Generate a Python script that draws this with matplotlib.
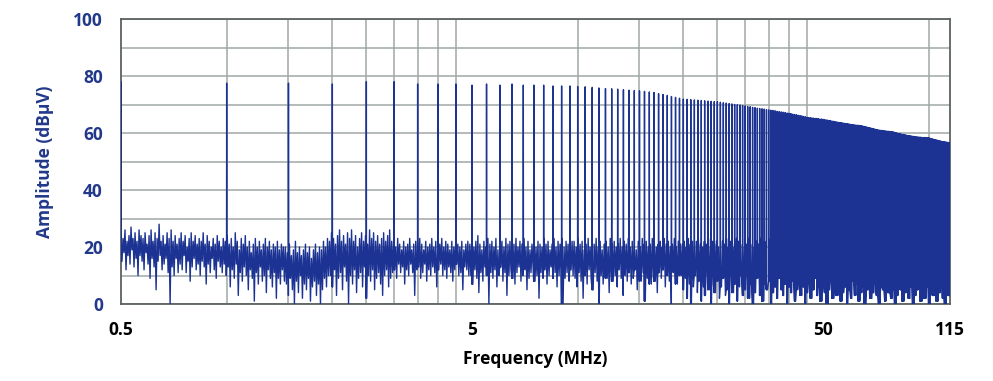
import numpy as np
import matplotlib
matplotlib.use("Agg")
import matplotlib.pyplot as plt
from matplotlib.ticker import FixedLocator, NullFormatter

plt.rcParams['font.family'] = ['Open Sans', 'DejaVu Sans']

#%% data
FUNDAMENTAL_MHZ = 0.5

# peak of each harmonic n*0.5 MHz, n = 1..230 (dBuV)
harmonic_db = [
    78.0, 77.5, 77.5, 77.2, 78.0, 78.0, 77.2, 77.2, 77.2, 76.8,
    77.2, 76.8, 77.2, 76.8, 76.8, 76.8, 76.5, 76.5, 76.5, 76.3,
    76.2, 76.0, 75.8, 75.6, 75.5, 75.4, 75.2, 75.0, 74.9, 74.8,
    74.6, 74.4, 74.2, 73.8, 73.5, 73.2, 72.8, 72.5, 72.2, 71.9,
    71.8, 71.7, 71.6, 71.5, 71.4, 71.3, 71.2, 71.1, 71.0, 71.0,
    70.8, 70.6, 70.5, 70.3, 70.2, 70.0, 69.9, 69.8, 69.6, 69.5,
    69.3, 69.2, 69.0, 68.9, 68.7, 68.6, 68.5, 68.4, 68.2, 68.1,
    68.0, 67.9, 67.8, 67.6, 67.5, 67.4, 67.3, 67.2, 67.0, 66.9,
    66.8, 66.6, 66.5, 66.4, 66.2, 66.1, 66.0, 65.8, 65.7, 65.5,
    65.4, 65.4, 65.3, 65.2, 65.1, 65.1, 65.0, 64.9, 64.9, 64.8,
    64.7, 64.6, 64.5, 64.4, 64.3, 64.2, 64.1, 64.0, 63.9, 63.8,
    63.7, 63.6, 63.6, 63.5, 63.4, 63.3, 63.3, 63.2, 63.1, 63.0,
    62.9, 62.9, 62.8, 62.8, 62.7, 62.7, 62.6, 62.6, 62.5, 62.4,
    62.3, 62.2, 62.1, 62.0, 61.9, 61.8, 61.7, 61.6, 61.5, 61.4,
    61.3, 61.2, 61.1, 61.0, 61.0, 60.9, 60.9, 60.8, 60.8, 60.7,
    60.7, 60.6, 60.6, 60.6, 60.5, 60.5, 60.5, 60.4, 60.3, 60.2,
    60.1, 60.0, 59.9, 59.8, 59.8, 59.7, 59.6, 59.5, 59.5, 59.4,
    59.3, 59.3, 59.2, 59.1, 59.1, 59.0, 59.0, 58.9, 58.9, 58.8,
    58.8, 58.7, 58.7, 58.6, 58.6, 58.6, 58.5, 58.5, 58.5, 58.5,
    58.4, 58.4, 58.4, 58.4, 58.4, 58.4, 58.3, 58.3, 58.3, 58.3,
    58.2, 58.1, 58.0, 57.9, 57.9, 57.8, 57.7, 57.7, 57.6, 57.5,
    57.5, 57.4, 57.3, 57.3, 57.2, 57.1, 57.1, 57.0, 57.0, 56.9,
    56.9, 56.8, 56.8, 56.8, 56.7, 56.7, 56.7, 56.6, 56.6, 56.6,
]

# noise floor, digitised as local highs / lows along the sweep (0.5 -> 115 MHz)
noise_peaks = [
    # 0.5 - 1 MHz
    25, 23, 26, 22, 24, 27, 23, 25, 22, 26, 24, 23, 25, 21, 24, 26, 22, 25, 23, 28, 22, 24, 21, 25, 23, 26,
    22, 24, 21, 23, 25, 22, 24, 20, 23, 25, 22, 24, 21, 23, 22, 25, 21, 24, 22, 20, 23, 21, 24, 22, 20, 23,
    # 1 - 1.5 MHz
    22, 24, 21, 23, 20, 25, 22, 19, 23, 21, 24, 20, 22, 18, 21, 23, 20, 22, 19, 21, 23, 20, 22, 19, 21, 20, 22, 19, 21, 20,
    # 1.5 - 2 MHz
    20, 18, 21, 17, 19, 22, 18, 20, 17, 19, 21, 18, 20, 16, 19, 21, 18, 20, 19, 22, 20, 23,
    # 2 - 3 MHz
    22, 25, 23, 21, 24, 26, 22, 24, 21, 25, 23, 26, 22, 24, 20, 23, 25, 22, 24, 21, 26, 23, 25, 22, 24, 21, 23, 25, 22, 24, 26, 22,
    # 3 - 5 MHz
    22, 20, 23, 21, 19, 22, 20, 21, 23, 19, 21, 22, 20, 23, 21, 19, 22, 20, 21, 23,
    20, 22, 19, 21, 23, 20, 22, 21, 19, 22, 20, 23, 21, 20, 22, 19, 21, 22,
    # 5 - 10 MHz
    21, 23, 20, 22, 24, 21, 19, 22, 20, 23, 21, 22, 20, 23, 19, 21, 22, 20, 23, 21, 22, 19, 21, 23, 20, 22,
    21, 23, 20, 22, 19, 21, 23, 20, 22, 21, 20, 23, 21, 22, 19, 21, 23, 20, 22, 21, 23, 20, 22, 21, 20, 22,
    # 10 - 20 MHz
    22, 20, 23, 21, 22, 19, 21, 23, 20, 22, 21, 23, 20, 22, 19, 21, 22, 20, 23, 21, 22, 20, 21, 23, 20, 22, 21,
    23, 20, 22, 21, 19, 22, 20, 23, 21, 22, 20, 21, 23, 22, 20, 21, 22, 20, 23, 21, 22, 20, 21, 23, 20, 22, 21,
    # 20 - 115 MHz
    21, 22, 20, 23, 21, 22, 20, 22, 23, 21, 20, 22, 21, 23, 20, 22, 21, 22, 20, 23,
    22, 21, 23, 20, 22, 21, 20, 23, 22, 21, 22, 20, 21, 23, 21, 22, 20, 22, 21, 23,
    21, 22, 20, 21, 23, 22, 20, 22, 21, 23, 20, 21, 22, 20, 23, 21, 22, 20, 22, 21,
    23, 20, 22, 21, 22, 20, 23, 21, 22, 20, 21, 23, 22, 20, 21, 22, 20, 23, 21, 22,
    20, 22, 21, 23, 20, 22, 21, 22, 23, 20, 21, 22, 20, 23, 21, 22, 21, 20, 22, 23,
    21, 20, 22, 21, 23, 22, 20, 21, 22, 23, 20, 22, 21, 20, 23, 22, 21, 22, 20, 21,
    23, 21, 22, 20, 22, 21, 23, 20, 22, 21, 20, 22, 21, 22,
]
noise_troughs = [
    # 0.5 - 1 MHz
    15, 18, 12, 17, 14, 19, 13, 16, 10, 17, 15, 12, 18, 14, 9, 16, 13, 5, 15, 17, 12, 14, 16, 11, 0, 13,
    10, 16, 11, 14, 12, 17, 11, 15, 8, 13, 16, 12, 14, 10, 15, 13, 7, 14, 11, 16, 12, 9, 15, 13, 11, 14,
    # 1 - 1.5 MHz
    10, 13, 6, 12, 9, 14, 3, 11, 8, 13, 10, 5, 12, 9, 1, 11, 7, 13, 8, 10, 4, 12, 9, 6, 11, 2, 9, 7, 12, 8,
    # 1.5 - 2 MHz
    7, 3, 9, 5, 0, 8, 4, 10, 2, 7, 5, 9, 1, 6, 8, 3, 7, 0, 5, 9, 6, 10,
    # 2 - 3 MHz
    10, 6, 12, 3, 9, 11, 5, 13, 8, 0, 10, 7, 12, 4, 9, 11, 6, 13, 2, 10, 8, 12, 5, 9, 11, 7, 3, 10, 12, 6, 9, 11,
    # 3 - 5 MHz
    12, 9, 14, 11, 13, 7, 12, 10, 14, 11, 3, 12, 13, 9, 11, 14, 8, 12, 10, 13,
    11, 6, 12, 14, 10, 12, 9, 13, 11, 8, 12, 14, 10, 11, 5, 13, 12, 10,
    # 5 - 10 MHz
    10, 7, 12, 9, 4, 11, 8, 13, 10, 0, 11, 9, 12, 6, 10, 13, 8, 11, 3, 10, 12, 9, 7, 11, 13, 8,
    10, 12, 5, 9, 11, 13, 8, 10, 2, 11, 9, 12, 7, 10, 13, 9, 11, 6, 10, 12, 0, 9, 11, 8, 12, 10,
    # 10 - 20 MHz
    9, 6, 11, 8, 2, 10, 7, 12, 9, 5, 11, 8, 0, 10, 7, 12, 9, 4, 11, 8, 10, 6, 12, 9, 3, 10, 8,
    11, 7, 9, 12, 5, 10, 8, 11, 1, 9, 12, 7, 10, 8, 4, 11, 9, 12, 6, 10, 8, 0, 11, 9, 7, 12, 10,
    # 20 - 115 MHz
    5, 9, 2, 7, 0, 6, 10, 4, 8, 1, 6, 3, 9, 5, 0, 7, 4, 8, 2, 6,
    9, 3, 5, 0, 8, 4, 7, 1, 6, 10, 3, 5, 8, 2, 7, 0, 4, 9, 6, 3,
    1, 7, 5, 8, 0, 4, 6, 2, 9, 5, 3, 7, 0, 6, 4, 8, 1, 5, 7, 3,
    6, 0, 4, 8, 2, 5, 9, 3, 6, 1, 7, 4, 0, 5, 8, 2, 6, 3, 7, 1,
    4, 6, 0, 5, 2, 8, 3, 7, 1, 4, 6, 0, 5, 9, 2, 4, 7, 3, 0, 6,
    5, 1, 8, 4, 2, 6, 0, 3, 7, 5, 1, 4, 8, 2, 6, 0, 3, 5, 7, 1,
    4, 2, 6, 0, 5, 3, 7, 1, 4, 6, 2, 0, 5, 3,
]

F_MIN, F_MAX = 0.5, 115
x_tick_values = [0.5, 5, 50, 115]
x_tick_labels = ["0.5", "5", "50", "115"]
x_grid_values = [1, 1.5, 2, 2.5, 3, 3.5, 4, 4.5, 5, 10, 15, 20, 25, 30, 35, 40, 45, 50, 100]
y_tick_values = [0, 20, 40, 60, 80, 100]

#%% build the sweep trace
n = len(noise_peaks)
noise_f = np.geomspace(F_MIN, F_MAX, 2 * n)
noise_db = np.empty(2 * n)
noise_db[0::2] = noise_peaks
noise_db[1::2] = noise_troughs

harm_f = FUNDAMENTAL_MHZ * np.arange(1, len(harmonic_db) + 1)
trough_f = noise_f[1::2]
base = np.array(noise_troughs)[np.clip(np.searchsorted(trough_f, harm_f), 0, n - 1)]

eps = 0.0008
f_all = np.concatenate([noise_f, harm_f * (1 - eps), harm_f, harm_f * (1 + eps)])
db_all = np.concatenate([noise_db, base, harmonic_db, base])
order = np.argsort(f_all, kind="stable")
f_all, db_all = f_all[order], db_all[order]

#%% plot
BLUE = "#1c3393"
TEXT_BLUE = "#22388a"
GRID = "#9fa8a4"

fig = plt.figure(figsize=(9.93, 3.81), dpi=100)
ax = fig.add_axes([121 / 993, 1 - 304 / 381, (950 - 121) / 993, (304 - 19) / 381])

ax.plot(f_all, db_all, color=BLUE, linewidth=1.0, zorder=3)

ax.set_xscale("log")
ax.set_xlim(F_MIN, F_MAX)
ax.set_ylim(0, 100)

ax.xaxis.set_major_locator(FixedLocator(x_tick_values))
ax.set_xticklabels(x_tick_labels)
ax.xaxis.set_minor_locator(FixedLocator(x_grid_values))
ax.xaxis.set_minor_formatter(NullFormatter())
ax.set_yticks(y_tick_values)
ax.set_yticks(np.arange(10, 100, 10), minor=True)

ax.grid(which="minor", color=GRID, linewidth=1.1, zorder=0)
ax.grid(which="major", axis="y", color=GRID, linewidth=1.1, zorder=0)
ax.set_axisbelow(True)

ax.tick_params(which="both", length=0)
ax.tick_params(axis="x", pad=12, labelsize=12.5, labelcolor="black")
ax.tick_params(axis="y", pad=13, labelsize=12.5, labelcolor=TEXT_BLUE)
for lab in ax.get_xticklabels() + ax.get_yticklabels():
    lab.set_fontweight("bold")

for spine in ax.spines.values():
    spine.set_color("#5c625f")
    spine.set_linewidth(1.3)

ax.set_xlabel("Frequency (MHz)", fontsize=12.5, fontweight="bold", color="black", labelpad=8)
ax.set_ylabel("Amplitude (dBµV)", fontsize=12.5, fontweight="bold", color=TEXT_BLUE, labelpad=14)

fig.savefig("out.png", dpi=100)
